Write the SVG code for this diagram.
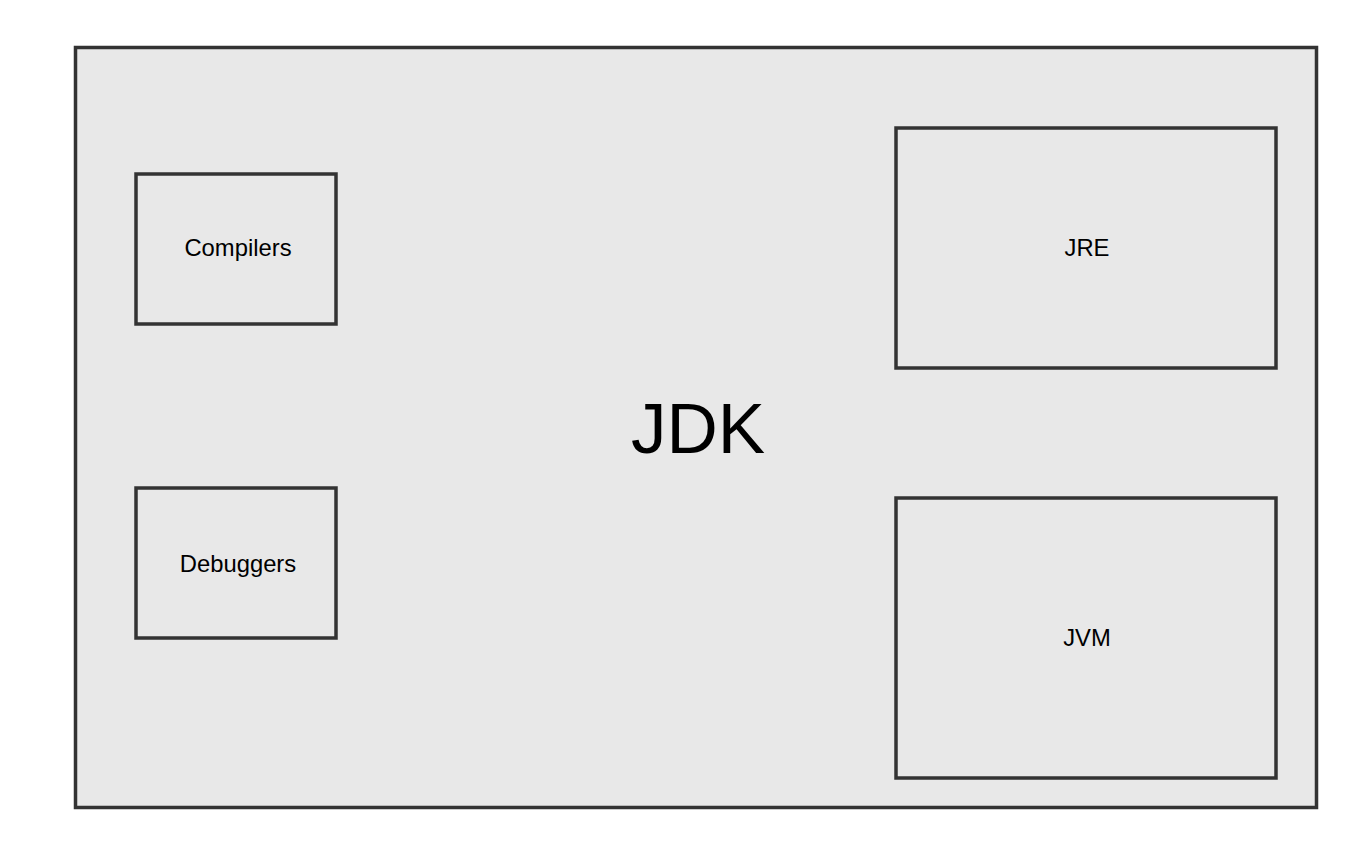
<svg xmlns="http://www.w3.org/2000/svg" width="1368" height="866" viewBox="0 0 1368 866">
<style>
.box{fill:#e8e8e8;stroke:#333333;stroke-width:3.5}
.lbl{font-family:"Liberation Sans",Arial,sans-serif;font-size:23.8px;fill:#000;text-anchor:middle}
.big{font-family:"Liberation Sans",Arial,sans-serif;font-size:71px;fill:#000;text-anchor:middle}
</style>
<rect width="1368" height="866" fill="#ffffff"/>
<g id="jdk">
<rect class="box" x="75.5" y="47.5" width="1241" height="760"/>
<text class="big" x="698" y="453">JDK</text>
</g>
<g id="compilers">
<rect class="box" x="136" y="174" width="200" height="150"/>
<text class="lbl" x="238" y="256">Compilers</text>
</g>
<g id="debuggers">
<rect class="box" x="136" y="488" width="200" height="150"/>
<text class="lbl" x="238" y="572">Debuggers</text>
</g>
<g id="jre">
<rect class="box" x="896" y="128" width="380" height="240"/>
<text class="lbl" x="1087" y="256">JRE</text>
</g>
<g id="jvm">
<rect class="box" x="896" y="498" width="380" height="280"/>
<text class="lbl" x="1087" y="646">JVM</text>
</g>
<g id="connectors"/>
</svg>
